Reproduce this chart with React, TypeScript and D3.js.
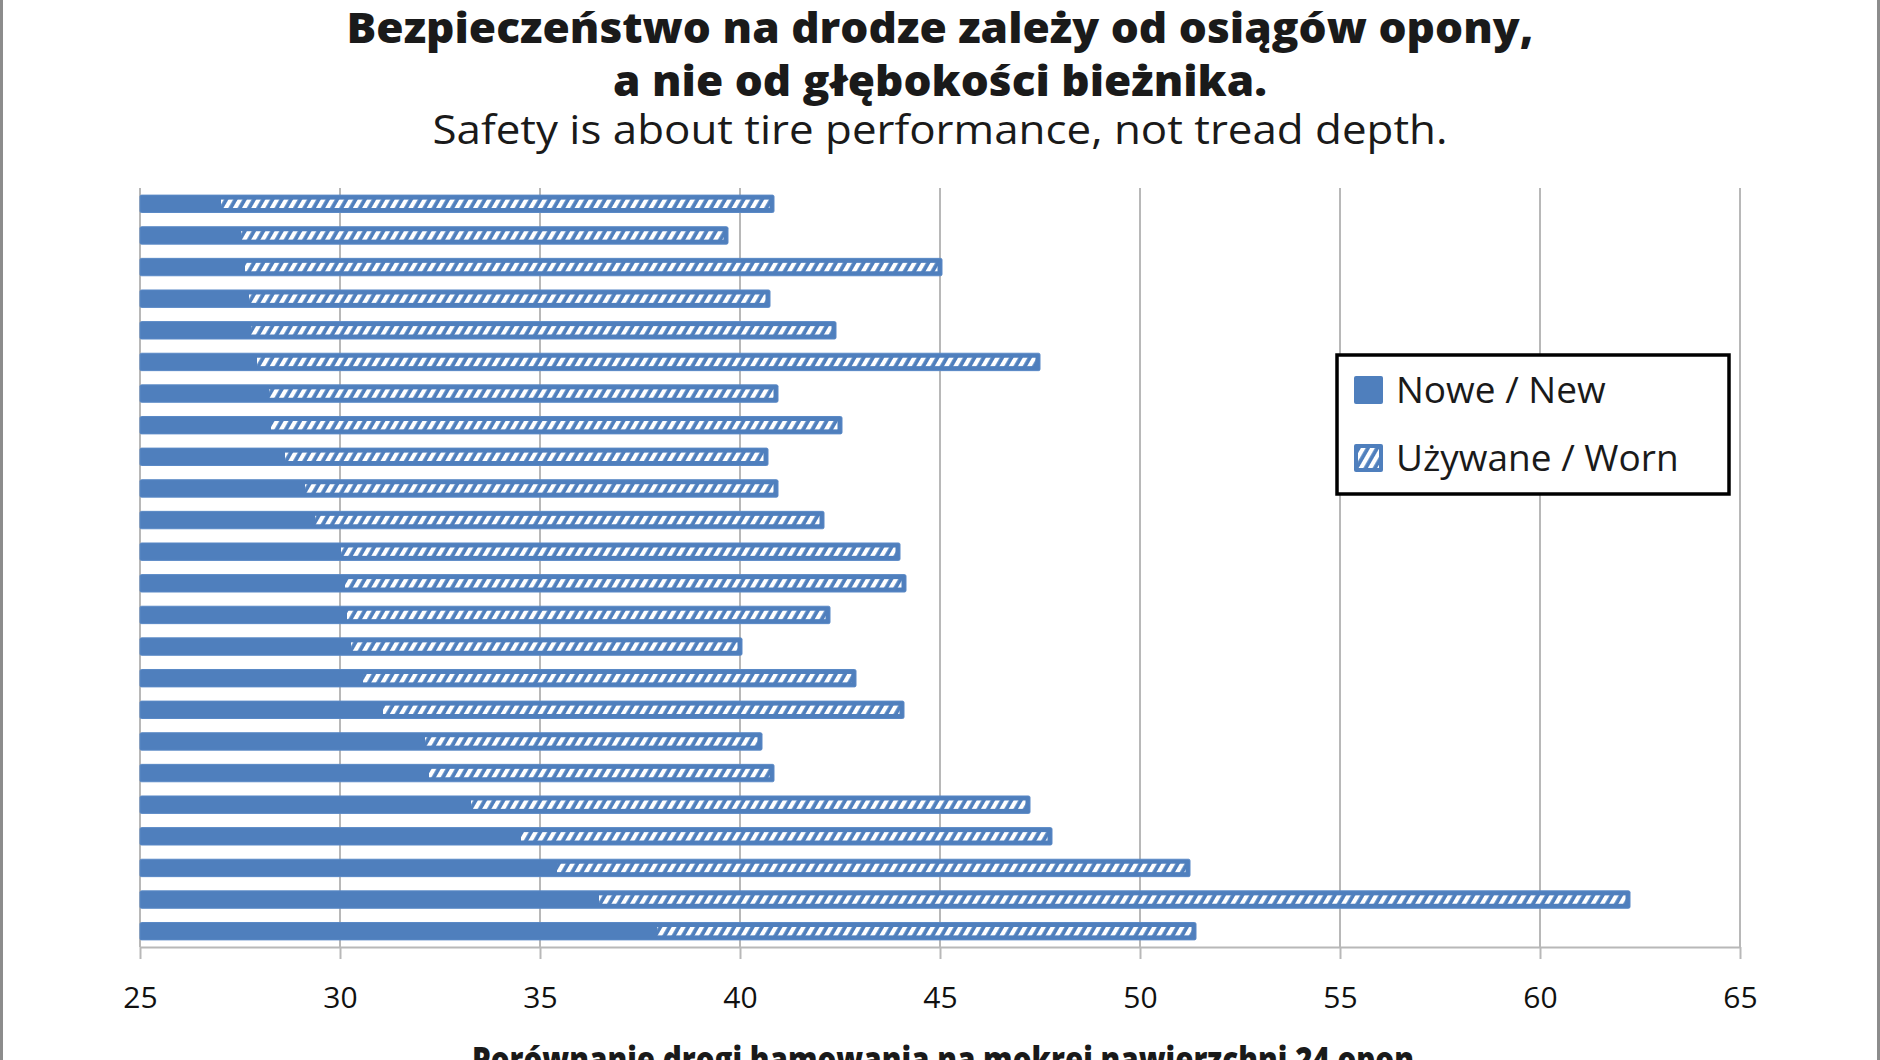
import { useEffect, useRef } from "react";
import * as d3 from "d3";

// 24 tyres, top to bottom as in the chart
const tires = [
  "T01", "T02", "T03", "T04", "T05", "T06", "T07", "T08",
  "T09", "T10", "T11", "T12", "T13", "T14", "T15", "T16",
  "T17", "T18", "T19", "T20", "T21", "T22", "T23", "T24",
];

// braking distance on wet road, new tyre (m)
const newValues = [
  27.0, 27.5, 27.6, 27.7, 27.75, 27.9, 28.2, 28.25,
  28.6, 29.1, 29.35, 30.0, 30.1, 30.15, 30.25, 30.55,
  31.05, 32.1, 32.2, 33.25, 34.5, 35.4, 36.45, 37.9,
];

// braking distance on wet road, worn tyre (m)
const wornValues = [
  40.85, 39.7, 45.05, 40.75, 42.4, 47.5, 40.95, 42.55,
  40.7, 40.95, 42.1, 44.0, 44.15, 42.25, 40.05, 42.9,
  44.1, 40.55, 40.85, 47.25, 47.8, 51.25, 62.25, 51.4,
];

const ticks = [25, 30, 35, 40, 45, 50, 55, 60, 65];

const titleLines = [
  "Bezpieczeństwo na drodze zależy od osiągów opony,",
  "a nie od głębokości bieżnika.",
];
const subtitle = "Safety is about tire performance, not tread depth.";
const axisTitle = "Porównanie drogi hamowania na mokrej nawierzchni 24 opon";
const legendLabels = ["Nowe / New", "Używane / Worn"];

const BLUE = "#4f7fbd";
const GRID = "#b8b8b8";
const FONT = "'Open Sans', 'Noto Sans', sans-serif";

export default function App() {
  const svgRef = useRef<SVGSVGElement | null>(null);

  useEffect(() => {
    const width = 1880;
    const height = 1060;
    const margin = { top: 188, right: 140, bottom: 113, left: 140 };
    const axisY = height - margin.bottom;

    const svg = d3.select(svgRef.current);
    svg.selectAll("*").remove();

    const x = d3
      .scaleLinear()
      .domain([25, 65])
      .range([margin.left, width - margin.right]);

    const y = d3
      .scaleBand()
      .domain(tires)
      .range([margin.top, axisY])
      .paddingInner(0.45)
      .paddingOuter(0.225);

    // hatch pattern for worn tyres
    const defs = svg.append("defs");
    const pat = defs
      .append("pattern")
      .attr("id", "hatch")
      .attr("patternUnits", "userSpaceOnUse")
      .attr("width", 8)
      .attr("height", 8)
      .attr("patternTransform", "rotate(30)");
    pat.append("rect").attr("width", 8).attr("height", 8).attr("fill", BLUE);
    pat.append("rect").attr("width", 4.2).attr("height", 8).attr("fill", "#fff");

    // page frame
    svg.append("rect").attr("width", width).attr("height", height).attr("fill", "#fff");
    svg
      .append("g")
      .selectAll("line")
      .data([1.5, width - 1.5])
      .join("line")
      .attr("x1", (d) => d)
      .attr("x2", (d) => d)
      .attr("y1", 0)
      .attr("y2", height)
      .attr("stroke", "#8c8c8c")
      .attr("stroke-width", 3);

    // titles
    const title = svg
      .append("g")
      .attr("font-family", FONT)
      .attr("text-anchor", "middle")
      .attr("fill", "#1a1a1a");
    title
      .selectAll("text.t")
      .data(titleLines)
      .join("text")
      .attr("class", "t")
      .attr("x", width / 2)
      .attr("y", (_, i) => 43 + i * 53)
      .attr("font-size", 43)
      .attr("font-weight", 800)
      .attr("textLength", (_, i) => (i === 0 ? 1187 : 654))
      .attr("lengthAdjust", "spacingAndGlyphs")
      .text((d) => d);
    title
      .append("text")
      .attr("x", width / 2)
      .attr("y", 144)
      .attr("font-size", 40)
      .attr("textLength", 1015)
      .attr("lengthAdjust", "spacingAndGlyphs")
      .text(subtitle);

    // gridlines
    svg
      .append("g")
      .selectAll("line")
      .data(ticks)
      .join("line")
      .attr("x1", (d) => x(d))
      .attr("x2", (d) => x(d))
      .attr("y1", margin.top)
      .attr("y2", axisY)
      .attr("stroke", GRID)
      .attr("stroke-width", 2);

    // x axis
    const axis = svg
      .append("g")
      .attr("transform", `translate(0,${axisY})`)
      .call(d3.axisBottom(x).tickValues(ticks).tickSize(12).tickSizeOuter(0).tickFormat(d3.format("d")));
    axis.select(".domain").attr("stroke", GRID).attr("stroke-width", 2);
    axis.selectAll(".tick line").attr("stroke", GRID).attr("stroke-width", 2);
    axis
      .selectAll(".tick text")
      .attr("y", 61)
      .attr("dy", 0)
      .attr("fill", "#111")
      .style("font-size", "30px")
      .style("font-family", FONT);

    // bars: new part solid, worn part hatched
    const rows = svg
      .append("g")
      .selectAll("g")
      .data(tires)
      .join("g")
      .attr("transform", (d) => `translate(0,${y(d)})`);
    const bh = y.bandwidth();

    rows
      .append("rect")
      .attr("x", x(25))
      .attr("y", 0)
      .attr("width", (_, i) => x(wornValues[i]) - x(25))
      .attr("height", bh)
      .attr("rx", 1.5)
      .attr("fill", BLUE)
      .attr("stroke", "#5a89c6")
      .attr("stroke-width", 1);

    rows
      .append("rect")
      .attr("x", (_, i) => x(newValues[i]) + 1)
      .attr("y", 4.5)
      .attr("width", (_, i) => x(wornValues[i]) - x(newValues[i]) - 5.5)
      .attr("height", bh - 9)
      .attr("fill", "url(#hatch)");

    // axis title, cut by the page bottom
    svg
      .append("text")
      .attr("x", 943)
      .attr("y", 1072)
      .attr("text-anchor", "middle")
      .attr("font-family", FONT)
      .attr("font-size", 36)
      .attr("font-weight", 800)
      .attr("fill", "#1a1a1a")
      .attr("textLength", 942)
      .attr("lengthAdjust", "spacingAndGlyphs")
      .text(axisTitle);

    // legend
    const lg = svg.append("g").attr("transform", "translate(1337,355)");
    lg.append("rect")
      .attr("width", 392)
      .attr("height", 139)
      .attr("fill", "#fff")
      .attr("stroke", "#000")
      .attr("stroke-width", 3.5);
    const items = lg
      .selectAll("g")
      .data(legendLabels)
      .join("g")
      .attr("transform", (_, i) => `translate(17,${21 + i * 68})`);
    items
      .append("rect")
      .attr("width", 29)
      .attr("height", 28)
      .attr("rx", 2)
      .attr("fill", BLUE);
    items
      .filter((_, i) => i === 1)
      .append("rect")
      .attr("x", 4)
      .attr("y", 4)
      .attr("width", 21)
      .attr("height", 20)
      .attr("fill", "url(#hatch)");
    items
      .append("text")
      .attr("x", 42)
      .attr("y", 27)
      .attr("font-family", FONT)
      .attr("font-size", 37)
      .attr("fill", "#1a1a1a")
      .text((d) => d);
  }, []);

  return (
    <div>
      <style>{"body{margin:0}"}</style>
      <svg ref={svgRef} width={1880} height={1060} style={{ display: "block" }}></svg>
    </div>
  );
}
